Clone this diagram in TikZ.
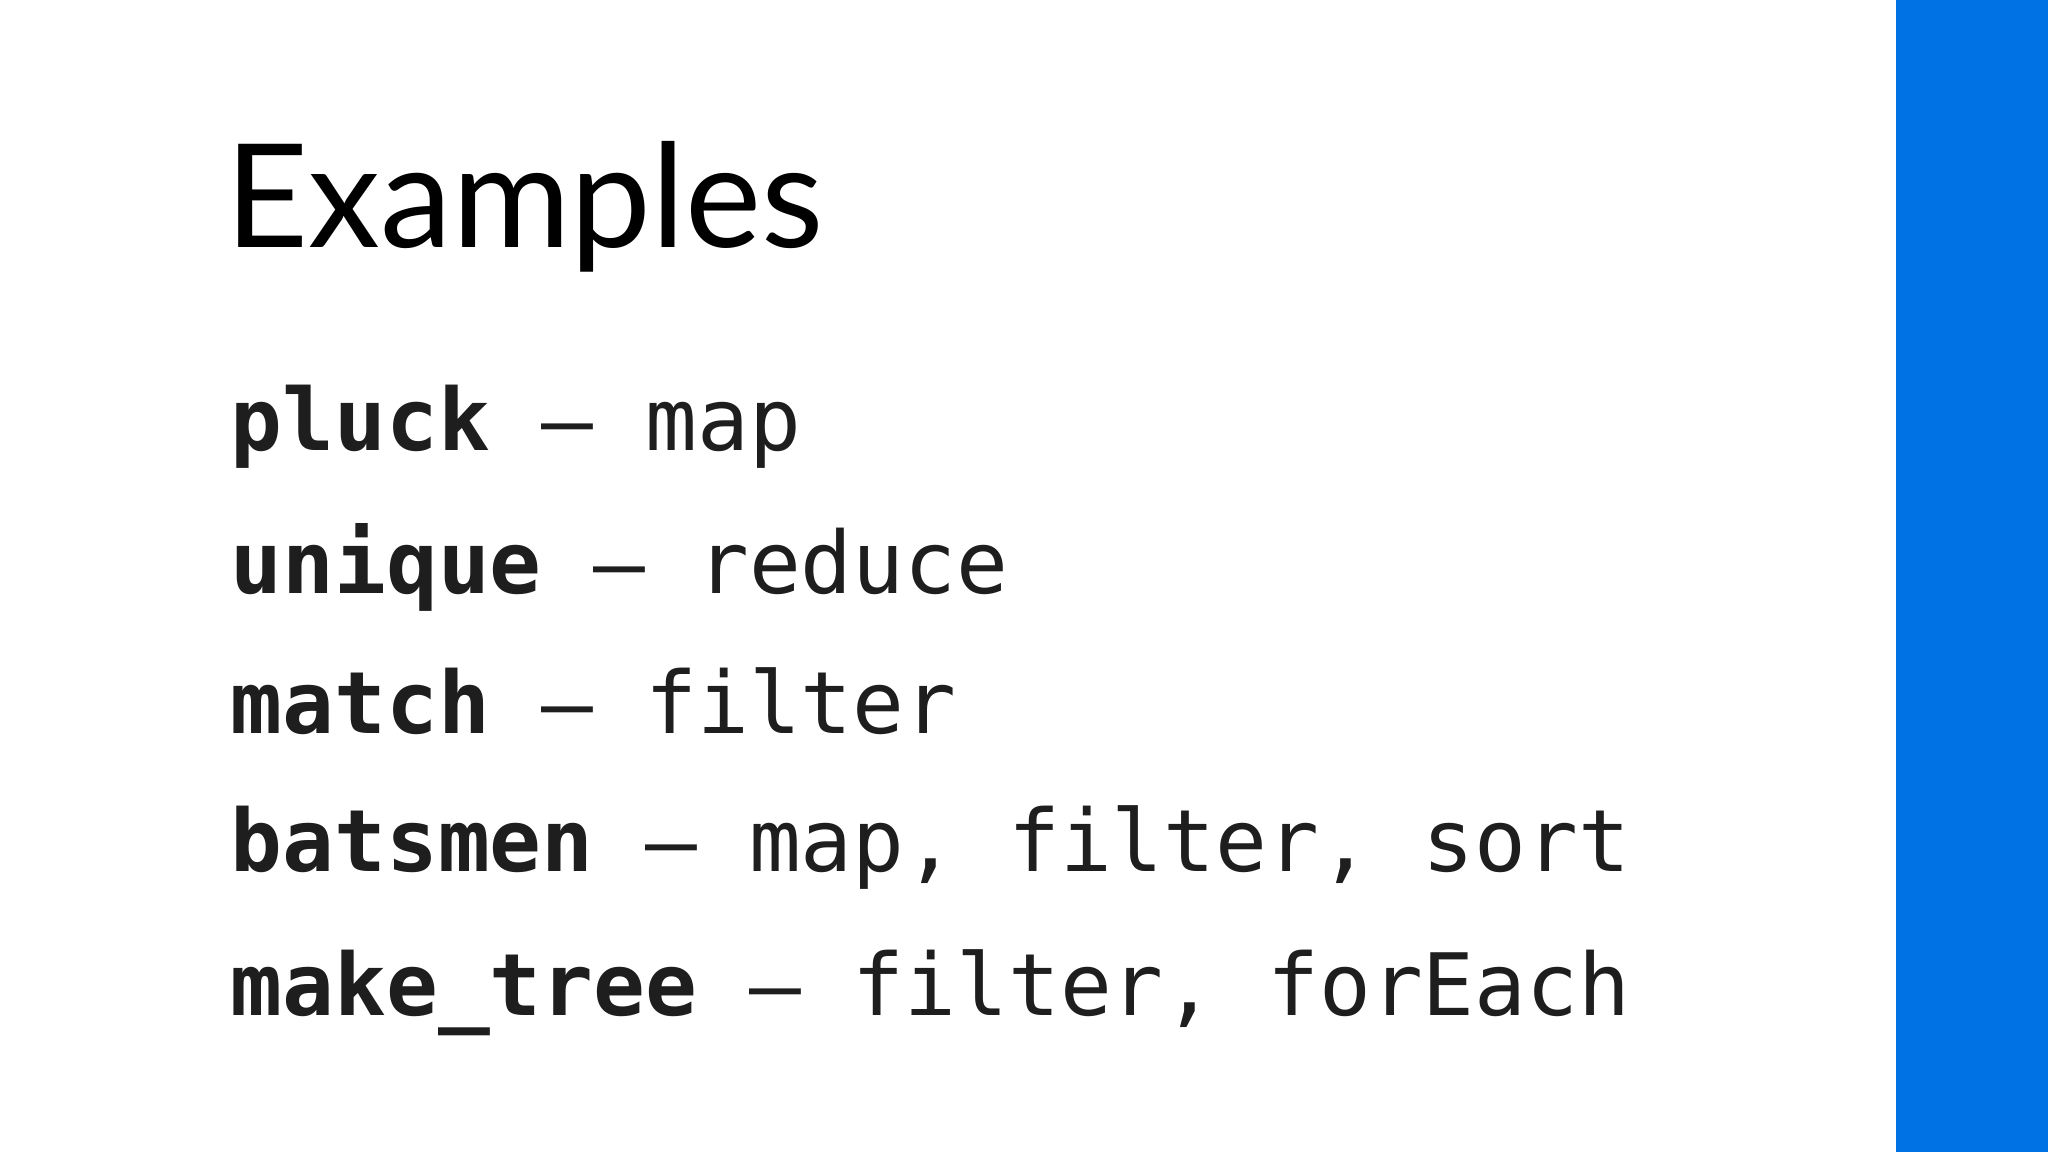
\documentclass[tikz,border=0pt]{standalone}
\usepackage{fontspec}
\setmainfont{Lato}
\setmonofont{DejaVu Sans Mono}
\definecolor{barblue}{RGB}{0,114,228}
\definecolor{ink}{RGB}{30,30,30}
\tikzset{line/.style={anchor=base west,inner sep=0pt,text=ink,font=\ttfamily\fontsize{24.5pt}{26pt}\selectfont}}
\begin{document}
\begin{tikzpicture}
\useasboundingbox (0,0) rectangle (20.48,-11.52);
\fill[white] (0,0) rectangle (20.48,-11.52);
\fill[barblue] (18.96,0) rectangle (20.48,-11.52);
\node[anchor=base west,inner sep=0pt,text=black,font=\fontsize{41pt}{45pt}\selectfont] (title) at (2.25,-2.48) {Examples};
\node[line] (l1) at (2.30,-4.51) {\textbf{pluck} – map};
\node[line] (l2) at (2.30,-5.94) {\textbf{unique} – reduce};
\node[line] (l3) at (2.30,-7.34) {\textbf{match} – filter};
\node[line] (l4) at (2.30,-8.72) {\textbf{batsmen} – map, filter, sort};
\node[line] (l5) at (2.30,-10.15) {\textbf{make\_tree} – filter, forEach};
\end{tikzpicture}
\end{document}
